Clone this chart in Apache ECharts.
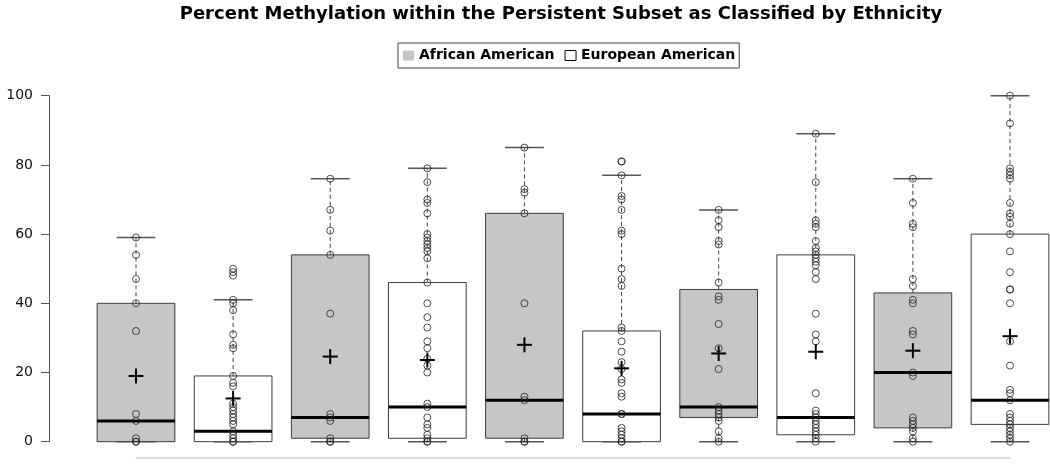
<!DOCTYPE html>
<html>
<head>
<meta charset="utf-8">
<script src="https://cdn.jsdelivr.net/npm/echarts@6/dist/echarts.min.js"></script>
<style>html,body{margin:0;padding:0;background:#fff}#c{width:1050px;height:465px}</style>
</head>
<body>
<div id="c"></div>
<script>
// ---- data ----
const groupEthnicity = ['African American','European American','African American','European American','African American','European American','African American','European American','African American','European American'];
const whiskerLow = [0, 0, 0, 0, 0, 0, 0, 0, 0, 0];
const boxQ1      = [0, 0, 1, 1, 1, 0, 7, 2, 4, 5];
const boxMedian  = [6, 3, 7, 10, 12, 8, 10, 7, 20, 12];
const boxQ3      = [40, 19, 54, 46, 66, 32, 44, 54, 43, 60];
const whiskerHigh= [59, 41, 76, 79, 85, 77, 67, 89, 76, 100];
const groupMeans = [19, 12.5, 24.6, 23.6, 28, 21.2, 25.5, 26, 26.3, 30.5];
const groupPoints = [
  [59, 54, 47, 40, 32, 8, 6, 1, 0, 0],
  [50, 49, 48, 41, 40, 38, 31, 28, 27, 19, 17, 16, 11, 10, 9, 8, 7, 6, 5, 3, 2, 1, 0, 0],
  [76, 67, 61, 54, 37, 8, 7, 6, 1, 0, 0],
  [79, 75, 70, 69, 66, 60, 59, 58, 57, 56, 55, 53, 46, 40, 36, 33, 29, 27, 24, 22, 20, 11, 10, 7, 5, 4, 2, 1, 0, 0],
  [85, 73, 72, 66, 40, 13, 12, 1, 0, 0],
  [81, 81, 77, 71, 70, 67, 61, 60, 50, 47, 45, 33, 32, 29, 26, 23, 21, 18, 17, 14, 13, 8, 8, 4, 3, 2, 1, 0, 0],
  [67, 64, 62, 58, 57, 46, 42, 41, 34, 27, 21, 10, 9, 8, 7, 6, 3, 1, 0],
  [89, 75, 64, 63, 62, 58, 56, 55, 54, 53, 52, 51, 49, 47, 37, 31, 29, 14, 9, 8, 7, 6, 5, 4, 3, 2, 1, 0],
  [76, 69, 63, 62, 47, 45, 41, 40, 32, 31, 20, 19, 7, 6, 5, 4, 3, 1, 0],
  [100, 92, 79, 78, 77, 76, 69, 66, 65, 63, 60, 55, 49, 44, 44, 40, 29, 22, 15, 14, 12, 8, 7, 6, 5, 4, 3, 2, 1, 0]
];
const yTicks = [0, 20, 40, 60, 80, 100];
const titleText = 'Percent Methylation within the Persistent Subset as Classified by Ethnicity';
const seriesNames = ['African American', 'European American'];
const fillColors = {'African American': '#c6c6c6', 'European American': '#ffffff'};

// ---- build ----
function boxData(name) {
  const out = [];
  groupEthnicity.forEach((e, i) => {
    if (e === name) out.push([i + 1, whiskerLow[i], boxQ1[i], boxMedian[i], boxQ3[i], whiskerHigh[i]]);
  });
  return out;
}
function makeBoxRender(fill) {
  return function (params, api) {
    const x = api.value(0);
    const lo = api.coord([x, api.value(1)]);
    const q1 = api.coord([x, api.value(2)]);
    const md = api.coord([x, api.value(3)]);
    const q3 = api.coord([x, api.value(4)]);
    const hi = api.coord([x, api.value(5)]);
    const half = api.size([0.8, 0])[0] / 2;
    const cap = half / 2;
    const cx = lo[0];
    const dash = {stroke: '#444', lineWidth: 1, lineDash: [4, 3]};
    const capStyle = {stroke: '#555', lineWidth: 1.5};
    const children = [
      {type: 'line', shape: {x1: cx, y1: q3[1], x2: cx, y2: hi[1]}, style: dash},
      {type: 'line', shape: {x1: cx - cap, y1: hi[1], x2: cx + cap, y2: hi[1]}, style: capStyle},
      {type: 'line', shape: {x1: cx - cap, y1: lo[1], x2: cx + cap, y2: lo[1]}, style: capStyle},
      {type: 'rect', shape: {x: cx - half, y: q3[1], width: 2 * half, height: q1[1] - q3[1]},
        style: {fill: fill, stroke: '#3c3c3c', lineWidth: 1}},
      {type: 'line', shape: {x1: cx - half, y1: md[1], x2: cx + half, y2: md[1]}, style: {stroke: '#000', lineWidth: 3}}
    ];
    if (q1[1] < lo[1] - 0.5) {
      children.unshift({type: 'line', shape: {x1: cx, y1: q1[1], x2: cx, y2: lo[1]}, style: dash});
    }
    return {type: 'group', children: children};
  };
}
const pointData = [];
groupPoints.forEach((arr, i) => arr.forEach(v => pointData.push([i + 1, v])));
const meanData = groupMeans.map((m, i) => [i + 1, m]);

const chart = echarts.init(document.getElementById('c'), null, {renderer: 'canvas'});
chart.setOption({
  animation: false,
  backgroundColor: '#fff',
  textStyle: {fontFamily: 'DejaVu Sans'},
  title: {
    text: titleText, left: 556, top: 0, textAlign: 'center',
    textStyle: {fontFamily: 'DejaVu Sans', fontWeight: 'bold', fontSize: 18, color: '#000'}
  },
  legend: {
    left: 398, top: 43, orient: 'horizontal',
    padding: [4, 4, 4, 5], itemGap: 10, itemWidth: 11, itemHeight: 10,
    borderColor: '#444', borderWidth: 1,
    textStyle: {fontFamily: 'DejaVu Sans', fontWeight: 'bold', fontSize: 14, color: '#000', lineHeight: 17},
    selectedMode: false,
    data: [
      {name: seriesNames[0], icon: 'rect', itemStyle: {color: fillColors[seriesNames[0]], borderWidth: 0}},
      {name: seriesNames[1], icon: 'rect', itemStyle: {color: '#fff', borderColor: '#000', borderWidth: 1}}
    ]
  },
  grid: {left: 136, right: 40, top: 95.7, bottom: 23.3, containLabel: false},
  xAxis: {
    type: 'value', min: 1, max: 10, interval: 1, offset: 16,
    axisLine: {show: true, onZero: false, lineStyle: {color: '#cfcfcf', width: 1.5}},
    axisTick: {show: true, length: 3, lineStyle: {color: '#e6e6e6'}},
    axisLabel: {show: false}, splitLine: {show: false}
  },
  yAxis: {
    type: 'value', min: yTicks[0], max: yTicks[yTicks.length - 1], interval: 20, offset: 87,
    axisLine: {show: true, onZero: false, lineStyle: {color: '#555', width: 1}},
    axisTick: {show: true, length: 8, lineStyle: {color: '#555'}},
    axisLabel: {margin: 16, fontFamily: 'DejaVu Sans', fontSize: 14, color: '#111'},
    splitLine: {show: false}
  },
  series: [
    {
      name: seriesNames[0], type: 'custom', z: 2, clip: false,
      itemStyle: {color: fillColors[seriesNames[0]]},
      encode: {x: 0, y: [1, 2, 3, 4, 5]},
      renderItem: makeBoxRender(fillColors[seriesNames[0]]),
      data: boxData(seriesNames[0])
    },
    {
      name: seriesNames[1], type: 'custom', z: 2, clip: false,
      itemStyle: {color: fillColors[seriesNames[1]]},
      encode: {x: 0, y: [1, 2, 3, 4, 5]},
      renderItem: makeBoxRender(fillColors[seriesNames[1]]),
      data: boxData(seriesNames[1])
    },
    {
      name: 'points', type: 'scatter', z: 3, clip: false,
      symbol: 'circle', symbolSize: 7,
      itemStyle: {color: 'rgba(0,0,0,0)', borderColor: '#222', borderWidth: 1},
      data: pointData
    },
    {
      name: 'mean', type: 'custom', z: 4, clip: false,
      encode: {x: 0, y: 1},
      renderItem: function (params, api) {
        const p = api.coord([api.value(0), api.value(1)]);
        const h = 7.5;
        const st = {stroke: '#000', lineWidth: 2};
        return {type: 'group', children: [
          {type: 'line', shape: {x1: p[0] - h, y1: p[1], x2: p[0] + h, y2: p[1]}, style: st},
          {type: 'line', shape: {x1: p[0], y1: p[1] - h, x2: p[0], y2: p[1] + h}, style: st}
        ]};
      },
      data: meanData
    }
  ]
});
</script>
</body>
</html>
